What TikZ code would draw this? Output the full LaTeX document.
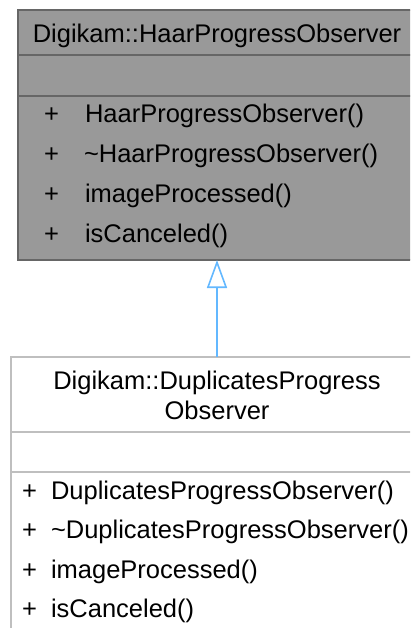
\documentclass[tikz,border=0pt]{standalone}
\usepackage{fontspec}
\setmainfont{Liberation Sans}
\usetikzlibrary{arrows.meta}
\definecolor{basefill}{HTML}{999999}
\definecolor{basedraw}{HTML}{666666}
\definecolor{derdraw}{HTML}{BFBFBF}
\definecolor{arrowblue}{HTML}{63B8FF}
\begin{document}
\begin{tikzpicture}[x=1pt,y=-1pt,
  basebox/.style={draw=basedraw, fill=basefill, line width=2pt, inner sep=0pt, outer sep=0pt},
  derbox/.style={draw=derdraw, fill=white, line width=2pt, inner sep=0pt, outer sep=0pt},
  basesep/.style={draw=basedraw, line width=2pt},
  dersep/.style={draw=derdraw, line width=2pt},
  txt/.style={inner sep=0pt, outer sep=0pt, font=\fontsize{25.5}{30}\selectfont, text=black},
  inherit/.style={draw=arrowblue, line width=1.6pt, -{Triangle[open, length=28pt, width=20pt, fill=white]}}
]
\useasboundingbox (0,0) rectangle (410,628);
\clip (0,0) rectangle (410,628);
% base class
\node[basebox, minimum width=398pt, minimum height=250pt] (base) at (217,135) {};
\draw[basesep] (18,55.5) -- (416,55.5);
\draw[basesep] (18,96) -- (416,96);
\node[txt, anchor=base] (btitle) at (217,43) {Digikam::HaarProgressObserver};
\node[txt, anchor=base west] (bp1) at (44,123) {+};
\node[txt, anchor=base west] (bm1) at (85,123) {HaarProgressObserver()};
\node[txt, anchor=base west] (bp2) at (44,163) {+};
\node[txt, anchor=base west] (bm2) at (84,163) {\char"7E HaarProgressObserver()};
\node[txt, anchor=base west] (bp3) at (44,203) {+};
\node[txt, anchor=base west] (bm3) at (85,203) {imageProcessed()};
\node[txt, anchor=base west] (bp4) at (44,242.5) {+};
\node[txt, anchor=base west] (bm4) at (85,242.5) {isCanceled()};
% derived class
\node[derbox, minimum width=412pt, minimum height=290pt] (der) at (217,501.5) {};
\draw[dersep] (11,432.3) -- (423,432.3);
\draw[dersep] (11,471.7) -- (423,471.7);
\node[txt, anchor=base] (dtitle1) at (217,389) {Digikam::DuplicatesProgress};
\node[txt, anchor=base] (dtitle2) at (217,419) {Observer};
\node[txt, anchor=base west] (dp1) at (22,499) {+};
\node[txt, anchor=base west] (dm1) at (51,499) {DuplicatesProgressObserver()};
\node[txt, anchor=base west] (dp2) at (22,538) {+};
\node[txt, anchor=base west] (dm2) at (51,538) {\char"7E DuplicatesProgressObserver()};
\node[txt, anchor=base west] (dp3) at (22,578) {+};
\node[txt, anchor=base west] (dm3) at (51,578) {imageProcessed()};
\node[txt, anchor=base west] (dp4) at (22,617) {+};
\node[txt, anchor=base west] (dm4) at (51,617) {isCanceled()};
% inheritance
\draw[inherit] (der.north) -- (base.south);
\end{tikzpicture}
\end{document}
